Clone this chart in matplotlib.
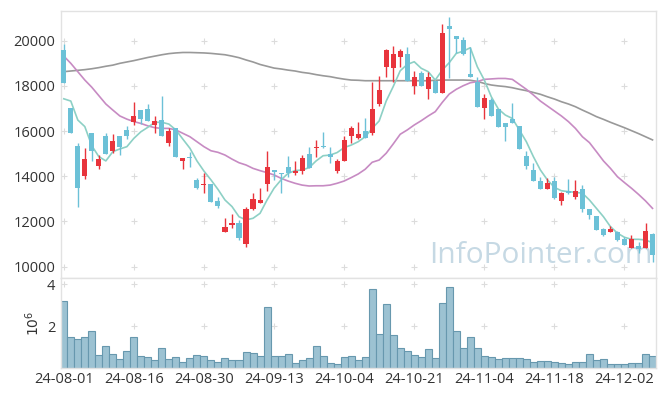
import numpy as np
import matplotlib.pyplot as plt

plt.rcParams['font.family'] = ['Open Sans', 'DejaVu Sans']

# daily OHLC (KRW), 85 trading days from 2024-08-01
opens = [19590, 17010, 15340, 14030, 15900, 14470, 15780, 15130, 15780, 16050,
         16420, 16930, 16980, 16270, 16490, 15490, 16120, 14680, 14870, 13840,
         13600, 13660, 12910, 11550, 11830, 11950, 10990, 12540, 12830, 13640,
         14280, 14130, 14430, 14130, 14230, 14990, 15240, 15350, 14990, 14250,
         14690, 15780, 15710, 16000, 15900, 17200, 18850, 18810, 19290, 19410,
         18010, 18560, 17850, 18230, 17700, 20650, 20210, 20030, 18530, 18190,
         17040, 17380, 16980, 16340, 16520, 16230, 14900, 14280, 13790, 13420,
         13790, 12920, 13360, 13070, 13440, 12540, 12240, 11650, 11520, 11520,
         11220, 10840, 10920, 10840, 11430]
highs = [19850, 17010, 15490, 15240, 15900, 14940, 15900, 15860, 15780, 16230,
         17270, 16930, 17180, 16670, 17550, 16150, 16120, 14790, 15090, 13940,
         14130, 13660, 13070, 12140, 12320, 12070, 12630, 13280, 13470, 15120,
         14280, 14130, 14900, 14680, 14940, 15310, 15610, 15940, 15310, 14750,
         15780, 16230, 16390, 16590, 18160, 18450, 19620, 19780, 19620, 19710,
         18660, 18660, 18630, 18230, 20740, 21030, 20210, 20180, 19740, 18410,
         17630, 17480, 16980, 16340, 17230, 16230, 15120, 14600, 13980, 13910,
         13980, 13320, 13880, 13840, 13610, 12540, 12240, 11700, 11800, 11560,
         11300, 11390, 11070, 11920, 11500]
lows = [18110, 15930, 12630, 13870, 14680, 14310, 15000, 15020, 14940, 15640,
        16250, 16310, 16460, 15900, 15780, 15350, 14870, 14310, 14430, 13420,
        13280, 12880, 12610, 11550, 11730, 11180, 10890, 12510, 12830, 13350,
        13840, 13250, 13980, 14060, 14100, 14350, 14840, 15240, 14600, 14130,
        14690, 15490, 15640, 15710, 15830, 17110, 18380, 18190, 18850, 18230,
        17630, 18010, 17410, 17700, 17700, 18360, 19470, 19370, 18410, 17050,
        16520, 16680, 16200, 15560, 16340, 15190, 14320, 13790, 13420, 13420,
        12980, 12730, 13220, 13000, 12420, 12110, 11620, 11350, 11520, 11150,
        10950, 10840, 10600, 10840, 10190]
closes = [18110, 15930, 13500, 14750, 15130, 14750, 15000, 15560, 15310, 15780,
          16670, 16520, 16460, 16460, 15780, 16000, 14870, 14790, 14820, 13500,
          13640, 12880, 12700, 11740, 11950, 11280, 12540, 12980, 12950, 14430,
          14170, 14100, 14160, 14230, 14820, 14350, 15310, 15310, 14840, 14690,
          15610, 16150, 15870, 15710, 16980, 17820, 19590, 19400, 19540, 18230,
          18380, 18010, 18380, 17700, 20330, 20520, 20060, 19400, 18410, 17050,
          17480, 16680, 16200, 16200, 16340, 15190, 14470, 13810, 13420, 13690,
          13050, 13250, 13280, 13350, 12540, 12290, 11620, 11400, 11670, 11180,
          10960, 11220, 10780, 11580, 10520]
ma5 = [17430, 17330, 16490, 16200, 15350, 14870, 14680, 15090, 15210, 15310,
       15680, 15970, 16170, 16390, 16390, 16310, 16050, 15640, 15240, 14680,
       14230, 13840, 13420, 12950, 12660, 12210, 12070, 12140, 12360, 12950,
       13470, 13840, 14130, 14250, 14280, 14380, 14680, 14910, 14940, 15050,
       15270, 15380, 15530, 15750, 16120, 16450, 17330, 17970, 18670, 18950,
       19070, 18780, 18630, 18260, 18700, 19030, 19440, 19540, 19690, 18850,
       18260, 17520, 16980, 16710, 16560, 16050, 15530, 14870, 14280, 13840,
       13510, 13360, 13320, 13290, 13250, 12950, 12580, 12210, 11770, 11480,
       11300, 11210, 11210, 11180, 11060]
ma20 = [19320, 19000, 18630, 18260, 17940, 17570, 17200, 16930, 16670, 16530,
        16420, 16340, 16230, 16150, 16120, 16120, 16050, 15900, 15750, 15530,
        15310, 15130, 15060, 14940, 14760, 14600, 14500, 14350, 14250, 14160,
        14060, 13910, 13790, 13690, 13610, 13570, 13580, 13580, 13610, 13690,
        13790, 13940, 14100, 14310, 14620, 14720, 15020, 15430, 15860, 16050,
        16270, 16460, 16670, 16860, 17270, 17640, 17850, 18010, 18140, 18190,
        18290, 18310, 18330, 18330, 18290, 18070, 17850, 17600, 17330, 17110,
        16890, 16670, 16420, 16120, 15750, 15490, 15090, 14680, 14350, 13980,
        13720, 13470, 13200, 12910, 12580]
ma120 = [18630, 18660, 18690, 18720, 18760, 18810, 18870, 18920, 19000, 19060,
         19120, 19190, 19260, 19320, 19380, 19430, 19460, 19480, 19480, 19470,
         19460, 19440, 19410, 19380, 19320, 19250, 19150, 19060, 18950, 18870,
         18790, 18750, 18700, 18660, 18600, 18560, 18500, 18450, 18410, 18350,
         18300, 18260, 18250, 18230, 18230, 18230, 18230, 18230, 18230, 18230,
         18230, 18230, 18230, 18250, 18260, 18260, 18260, 18260, 18250, 18200,
         18110, 18040, 18000, 17970, 17920, 17850, 17790, 17710, 17630, 17520,
         17420, 17300, 17200, 17080, 16930, 16790, 16640, 16520, 16390, 16270,
         16150, 16020, 15890, 15750, 15610]
volume = [3.22, 1.46, 1.41, 1.46, 1.79, 0.60, 1.03, 0.65, 0.41, 0.79,
          1.46, 0.56, 0.51, 0.37, 0.98, 0.41, 0.51, 0.27, 0.46, 0.60,
          0.56, 0.37, 0.27, 0.46, 0.37, 0.37, 0.75, 0.70, 0.56, 2.94,
          0.56, 0.56, 0.65, 0.22, 0.37, 0.46, 1.03, 0.56, 0.22, 0.17,
          0.51, 0.56, 0.37, 0.51, 3.79, 1.65, 3.08, 1.56, 0.94, 0.79,
          0.60, 0.51, 0.89, 0.46, 3.13, 3.89, 1.79, 0.98, 1.46, 0.94,
          0.56, 0.51, 0.41, 0.46, 0.46, 0.46, 0.41, 0.27, 0.32, 0.32,
          0.27, 0.22, 0.17, 0.27, 0.27, 0.65, 0.37, 0.41, 0.17, 0.17,
          0.17, 0.22, 0.22, 0.65, 0.56]
tick_pos = [0, 10, 20, 30, 40, 50, 60, 70, 80]
tick_labels = ['24-08-01', '24-08-16', '24-08-30', '24-09-13', '24-10-04',
               '24-10-21', '24-11-04', '24-11-18', '24-12-02']
price_ticks = [10000, 12000, 14000, 16000, 18000, 20000]

RED = '#e8343c'
BLUE = '#6cc1d7'
GRID = '#dcdcdc'

fig = plt.figure(figsize=(6.65, 3.96), dpi=100)
ax = fig.add_axes([0.0917, 0.2987, 0.8948, 0.6743])
axv = fig.add_axes([0.0917, 0.0707, 0.8948, 0.228], sharex=ax)

o = np.array(opens, float)
h = np.array(highs, float)
l = np.array(lows, float)
c = np.array(closes, float)
x = np.arange(len(o))
colors = [RED if cc > oo else BLUE for oo, cc in zip(o, c)]

# grid is drawn as small "+" marks
gx, gy = np.meshgrid(tick_pos, price_ticks)
ax.scatter(gx.ravel(), gy.ravel(), marker='+', s=22, color=GRID, lw=0.8, zorder=0)
ax.text(0.806, 0.085, 'InfoPointer.com', transform=ax.transAxes, fontsize=21.5,
        color='#c6d9e4', ha='center', va='center', zorder=0)

ax.plot(x, ma120, color='#999999', lw=1.2, zorder=1)
ax.plot(x, ma20, color='#c78bc3', lw=1.2, zorder=1)
ax.plot(x, ma5, color='#8dd0c5', lw=1.2, zorder=1)

ax.vlines(x, l, h, color=colors, lw=1.0, zorder=2)
body = np.maximum(np.abs(c - o), 40)
ax.bar(x, body, bottom=np.minimum(o, c), width=0.72, color=colors, zorder=3)

ax.set_xlim(-0.4, 84.5)
ax.set_ylim(9510, 21330)
ax.set_yticks(price_ticks)
ax.tick_params(axis='x', labelbottom=False, length=0)
ax.tick_params(axis='y', length=0, labelsize=10.5, colors='#333333', pad=4)

vg_x, vg_y = np.meshgrid(tick_pos, [2, 4])
axv.scatter(vg_x.ravel(), vg_y.ravel(), marker='+', s=22, color=GRID, lw=0.8, zorder=0)
axv.bar(x, volume, width=1.0, color='#9cc2d2', edgecolor='#6798ae', lw=0.8, zorder=2)
axv.set_ylim(0, 4.32)
axv.set_yticks([2, 4])
axv.set_xticks(tick_pos)
axv.set_xticklabels(tick_labels)
axv.tick_params(axis='x', length=0, labelsize=10.5, colors='#333333', pad=3)
axv.tick_params(axis='y', length=0, labelsize=10.5, colors='#333333', pad=4)
axv.set_ylabel('$10^6$', fontsize=10, color='#333333', labelpad=3)

for a in (ax, axv):
    for s in a.spines.values():
        s.set_color('#e2e2e2')
        s.set_linewidth(1.0)

fig.savefig('out.png', dpi=100)
